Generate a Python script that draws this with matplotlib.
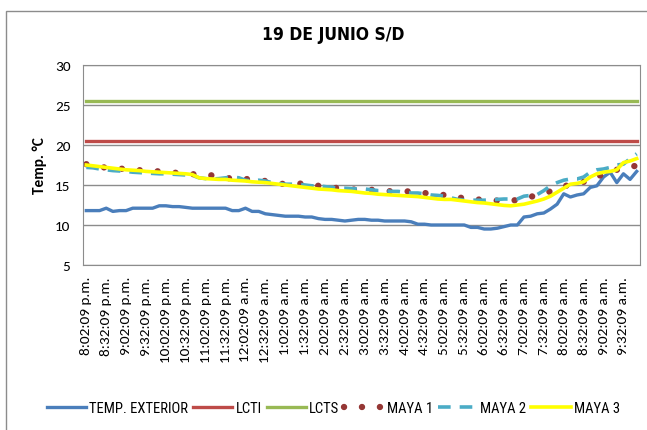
import matplotlib
matplotlib.use("Agg")
import matplotlib.pyplot as plt
from matplotlib.patches import Rectangle

# horas de medicion cada 10 minutos (8:02:09 p.m. a 9:52:09 a.m.)
horas = []
for k in range(84):
    m = 20 * 60 + 2 + 10 * k
    h = (m // 60) % 24
    mm = m % 60
    sufijo = "p.m." if 12 <= h < 24 else "a.m."
    h12 = h % 12
    if h12 == 0:
        h12 = 12
    horas.append(f"{h12}:{mm:02d}:09 {sufijo}")

temp_exterior = [11.8, 11.8, 11.8, 12.1, 11.7, 11.8, 11.8, 12.1, 12.1, 12.1,
                 12.1, 12.4, 12.4, 12.3, 12.3, 12.2, 12.1, 12.1, 12.1, 12.1,
                 12.1, 12.1, 11.8, 11.8, 12.1, 11.7, 11.7, 11.4, 11.3, 11.2,
                 11.1, 11.1, 11.1, 11.0, 11.0, 10.8, 10.7, 10.7, 10.6, 10.5,
                 10.6, 10.7, 10.7, 10.6, 10.6, 10.5, 10.5, 10.5, 10.5, 10.4,
                 10.1, 10.1, 10.0, 10.0, 10.0, 10.0, 10.0, 10.0, 9.7, 9.7,
                 9.5, 9.5, 9.6, 9.8, 10.0, 10.0, 11.0, 11.1, 11.4, 11.5,
                 12.0, 12.6, 13.9, 13.5, 13.75, 13.9, 14.7, 14.9, 16.0, 16.6,
                 15.3, 16.4, 15.7, 16.7]

lcti = [20.5] * 84
lcts = [25.5] * 84

maya1 = [17.6, 17.4, 17.3, 17.15, 17.1, 17.05, 17.0, 17.0, 16.85, 16.8,
         16.75, 16.7, 16.65, 16.55, 16.5, 16.45, 16.35, 16.3, 16.25, 16.2,
         16.0, 15.9, 15.8, 15.8, 15.75, 15.7, 15.6, 15.5, 15.4, 15.2,
         15.1, 15.15, 15.2, 15.1, 15.0, 14.9, 14.8, 14.7, 14.6, 14.5,
         14.45, 14.4, 14.4, 14.4, 14.35, 14.3, 14.2, 14.2, 14.2, 14.2,
         14.1, 14.0, 13.9, 13.8, 13.75, 13.7, 13.5, 13.3, 13.25, 13.2,
         13.1, 13.1, 13.05, 13.0, 13.0, 13.15, 13.3, 13.5, 13.8, 14.0,
         14.2, 14.4, 14.8, 15.1, 15.3, 15.4, 15.5, 15.9, 16.5, 16.7,
         16.9, 17.2, 17.3, 17.4]

maya2 = [17.2, 17.15, 17.0, 16.9, 16.8, 16.75, 16.7, 16.6, 16.55, 16.5,
         16.45, 16.4, 16.4, 16.35, 16.3, 16.25, 16.2, 15.9, 15.8, 15.75,
         15.8, 15.9, 16.0, 15.9, 15.6, 15.5, 15.6, 15.5, 15.3, 15.2,
         15.1, 15.1, 15.1, 15.0, 14.9, 14.9, 14.8, 14.7, 14.6, 14.6,
         14.55, 14.5, 14.5, 14.4, 14.3, 14.3, 14.2, 14.2, 14.1, 14.0,
         14.0, 13.9, 13.75, 13.7, 13.6, 13.4, 13.2, 13.1, 13.1, 13.1,
         13.1, 13.15, 13.2, 13.25, 13.25, 13.25, 13.6, 13.7, 13.8, 14.3,
         14.9, 15.3, 15.6, 15.75, 15.75, 16.0, 16.6, 16.9, 17.0, 17.2,
         17.5, 17.6, 18.3, 18.9]

maya3 = [17.5, 17.4, 17.3, 17.2, 17.1, 17.0, 16.9, 16.85, 16.8, 16.7,
         16.65, 16.6, 16.55, 16.5, 16.45, 16.4, 16.3, 15.9, 15.8, 15.75,
         15.7, 15.7, 15.6, 15.55, 15.5, 15.4, 15.35, 15.3, 15.2, 15.1,
         15.0, 14.9, 14.8, 14.7, 14.6, 14.5, 14.45, 14.4, 14.3, 14.25,
         14.2, 14.1, 14.0, 13.95, 13.85, 13.8, 13.75, 13.7, 13.65, 13.6,
         13.55, 13.45, 13.35, 13.25, 13.2, 13.2, 13.1, 13.0, 12.9, 12.8,
         12.75, 12.65, 12.55, 12.45, 12.4, 12.5, 12.6, 12.8, 13.0, 13.25,
         13.6, 14.1, 14.6, 15.1, 15.2, 15.4, 16.0, 16.4, 16.6, 16.7,
         16.9, 17.8, 18.0, 18.3]

fuente_num = ["Carlito", "DejaVu Sans"]
fuente_narrow = ["Roboto Condensed", "DejaVu Sans"]

fig = plt.figure(figsize=(6.47, 4.31), dpi=100)
fig.patches.append(Rectangle((6 / 647, -0.05), 1.0, (431 - 12) / 431 + 0.05,
                             transform=fig.transFigure, fill=False,
                             edgecolor="#8c8c8c", linewidth=1.0))
ax = fig.add_axes([83 / 647, 1 - 266 / 431, 557 / 647, 200 / 431])

x = list(range(len(horas)))
ax.plot(x, temp_exterior, color="#4A7EBB", lw=2.4, label="TEMP. EXTERIOR")
ax.plot(x, lcti, color="#BE4B48", lw=2.4, label="LCTI")
ax.plot(x, lcts, color="#98B954", lw=2.4, label="LCTS")
ax.plot(x, maya1, color="#953735", lw=4.6, linestyle=(0, (0.01, 2.8)),
        dash_capstyle="round", label="MAYA 1")
ax.plot(x, maya2, color="#4BACC6", lw=2.6, linestyle=(0, (3.5, 2.5)),
        label="MAYA 2")
ax.plot(x, maya3, color="#FFFF00", lw=2.6, label="MAYA 3")

ax.set_xlim(-0.5, len(horas) - 0.5)
ax.set_ylim(5, 30)
ax.set_yticks([5, 10, 15, 20, 25, 30])
ax.yaxis.grid(True, color="#8c8c8c", lw=1.0)
ax.set_axisbelow(True)
ax.set_xticks(x[::3])
ax.set_xticklabels(horas[::3], rotation=90, family=fuente_num, fontsize=11)
for lab in ax.get_yticklabels():
    lab.set_family(fuente_num)
    lab.set_fontsize(11)
ax.tick_params(length=0, pad=8)
ax.tick_params(axis="y", pad=9)
for s in ax.spines.values():
    s.set_color("#8c8c8c")
ax.set_ylabel("Temp. °C", family=fuente_num, fontsize=11, fontweight="bold",
              labelpad=6)

fig.text(0.515, 1 - 35 / 431, "19 DE JUNIO S/D", ha="center", va="center",
         family="DejaVu Sans", fontstretch="condensed", fontsize=12.5,
         fontweight="bold")

fig.legend(loc="center", bbox_to_anchor=(0.515, 1 - 409 / 431), ncol=6,
           frameon=False, prop={"family": fuente_narrow, "size": 10.5},
           handlelength=2.7, handletextpad=0.2, columnspacing=0.35)

fig.savefig("out.png", dpi=100)
